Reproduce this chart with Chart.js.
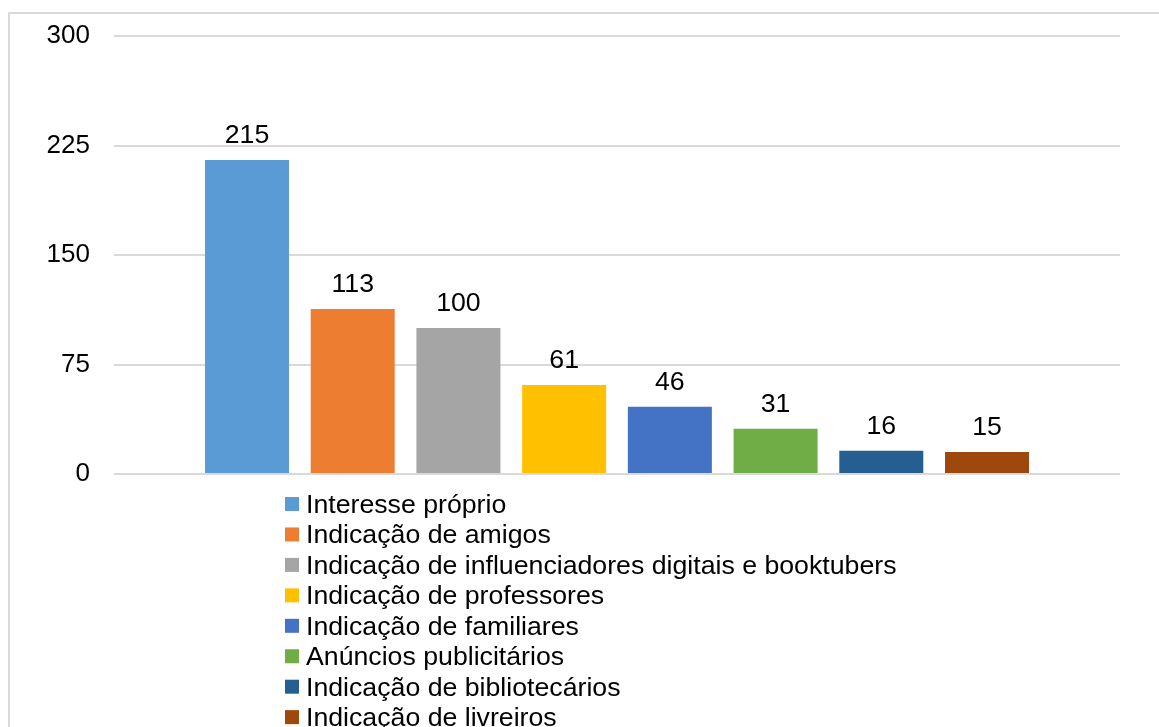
<!DOCTYPE html>
<html>
<head>
<meta charset="utf-8">
<script src="https://cdn.jsdelivr.net/npm/chart.js@4.4.1/dist/chart.umd.min.js"></script>
<style>
  html, body { margin: 0; padding: 0; background: #fff; overflow: hidden; }
  #wrap { position: relative; width: 1159px; height: 727px; }
  #frame { position: absolute; left: 8px; top: 12px; width: 1200px; height: 800px;
           border: 2px solid #d9d9d9; box-sizing: border-box; pointer-events: none; }
  canvas { position: absolute; left: 0; top: 0; }
</style>
</head>
<body>
<div id="wrap">
  <canvas id="chart" width="1159" height="727"></canvas>
  <div id="frame"></div>
</div>
<script>
/* ── data ── */
const CATEGORIES = [
  'Interesse próprio',
  'Indicação de amigos',
  'Indicação de influenciadores digitais e booktubers',
  'Indicação de professores',
  'Indicação de familiares',
  'Anúncios publicitários',
  'Indicação de bibliotecários',
  'Indicação de livreiros',
];
const VALUES = [215, 113, 100, 61, 46, 31, 16, 15];
const COLORS = ['#5B9BD5', '#ED7D31', '#A5A5A5', '#FFC000', '#4472C4', '#70AD47', '#255E91', '#9E480E'];
const Y_TICKS = [0, 75, 150, 225, 300];

const FAMILY = '"Liberation Sans", Arial, sans-serif';
const FONT = '26.7px ' + FAMILY;

/* ── value labels above bars ── */
const valueLabels = {
  id: 'valueLabels',
  afterDatasetsDraw(chart) {
    const { ctx } = chart;
    ctx.save();
    ctx.font = FONT;
    ctx.fillStyle = '#000';
    ctx.textAlign = 'center';
    ctx.textBaseline = 'alphabetic';
    chart.data.datasets.forEach((ds, i) => {
      const bar = chart.getDatasetMeta(i).data[0];
      if (!bar) return;
      ctx.fillText(String(ds.data[0]), bar.x, bar.y - 17);
    });
    ctx.restore();
  },
};

/* ── vertical legend below the plot ── */
const listLegend = {
  id: 'listLegend',
  afterDraw(chart) {
    const { ctx } = chart;
    const x0 = 285, y0 = 497, step = 30.45;
    ctx.save();
    ctx.font = FONT;
    ctx.textAlign = 'left';
    ctx.textBaseline = 'alphabetic';
    chart.data.datasets.forEach((ds, i) => {
      const y = y0 + i * step;
      ctx.fillStyle = ds.backgroundColor;
      ctx.fillRect(x0, y, 14, 14);
      ctx.fillStyle = '#000';
      ctx.fillText(ds.label, x0 + 21, y + 16);
    });
    ctx.restore();
  },
};

const datasets = CATEGORIES.map((name, i) => ({
  label: name,
  data: [VALUES[i]],
  backgroundColor: COLORS[i],
  borderWidth: 0,
  categoryPercentage: 0.8407,
  barPercentage: 0.7946,
}));

new Chart(document.getElementById('chart'), {
  type: 'bar',
  data: { labels: [''], datasets },
  plugins: [valueLabels, listLegend],
  options: {
    responsive: false,
    animation: false,
    devicePixelRatio: 1,
    layout: { padding: { top: 36, right: 39, bottom: 253, left: 0 } },
    plugins: {
      legend: { display: false },
      tooltip: { enabled: false },
    },
    scales: {
      x: { display: false },
      y: {
        min: 0, max: 300,
        afterBuildTicks: s => { s.ticks = Y_TICKS.map(v => ({ value: v })); },
        afterFit: s => { s.width = 114; s.paddingTop = 0; s.paddingBottom = 0; },
        grid: { color: '#d9d9d9', lineWidth: 2, drawTicks: false },
        border: { display: false },
        ticks: { color: '#000', padding: 24, font: { family: FAMILY, size: 26 } },
      },
    },
  },
});
</script>
</body>
</html>
